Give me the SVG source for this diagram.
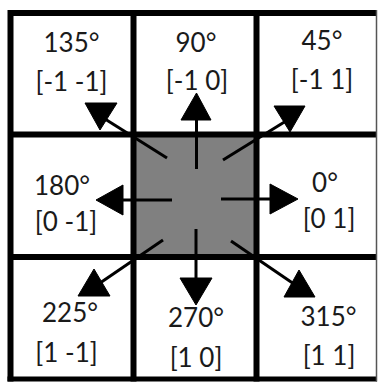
<svg xmlns="http://www.w3.org/2000/svg" width="378" height="383" viewBox="0 0 378 383">
<style>
.t{font-family:Lato,"Open Sans","Liberation Sans",sans-serif;font-size:26px;fill:#1a1a1a;text-anchor:middle}
.g{stroke:#000;stroke-width:6;fill:none}
.l{stroke:#000;stroke-width:3;fill:none}
.h{fill:#000;stroke:#000;stroke-width:1;stroke-linejoin:round}
</style>
<rect x="0" y="0" width="378" height="383" fill="#fff"/>
<rect x="133.5" y="134.5" width="123" height="122.5" fill="#808080"/>
<g id="grid">
<path class="g" d="M10.5 13V381.5M133.5 13V381.5M256.5 13V381.5M7.5 13H377M7.5 134.5H377M7.5 257H377"/>
<path d="M7.5 379H377" stroke="#000" stroke-width="5" fill="none"/>
<path d="M376.5 10V381.5" stroke="#555" stroke-width="1.5" fill="none"/>
</g>
<g id="n135"><text class="t" x="71.5" y="52">135°</text><text class="t" x="71.5" y="91">[-1 -1]</text></g>
<g id="n90"><text class="t" x="196" y="52">90°</text><text class="t" x="197" y="90">[-1 0]</text></g>
<g id="n45"><text class="t" x="322" y="50">45°</text><text class="t" x="322" y="89">[-1 1]</text></g>
<g id="n180"><text class="t" x="62" y="195">180°</text><text class="t" x="66" y="231">[0 -1]</text></g>
<g id="n0"><text class="t" x="325" y="192">0°</text><text class="t" x="329" y="228">[0 1]</text></g>
<g id="n225"><text class="t" x="70" y="322">225°</text><text class="t" x="66.5" y="362">[1 -1]</text></g>
<g id="n270"><text class="t" x="196" y="327">270°</text><text class="t" x="196" y="367">[1 0]</text></g>
<g id="n315"><text class="t" x="328.5" y="326">315°</text><text class="t" x="329" y="365">[1 1]</text></g>
<g id="connectors">
<line class="l" x1="196.5" y1="169" x2="196.5" y2="118"/>
<polygon class="h" points="196.5,93 181,120 211,120"/>
<line class="l" x1="196" y1="229" x2="196" y2="280"/>
<polygon class="h" points="196,305 180,278 212,278"/>
<line class="l" x1="172" y1="200" x2="121" y2="200"/>
<polygon class="h" points="96,200 123,185 123,215"/>
<line class="l" x1="221" y1="199" x2="272" y2="199"/>
<polygon class="h" points="298,199 270,184 270,214"/>
<line class="l" x1="167" y1="158" x2="105" y2="119"/>
<polygon class="h" points="85,103 117,103 100,130"/>
<line class="l" x1="223" y1="160" x2="286" y2="121"/>
<polygon class="h" points="274,106 305,106 290,132"/>
<line class="l" x1="163" y1="240" x2="100" y2="283"/>
<polygon class="h" points="78,296 110,296 94,269"/>
<line class="l" x1="231" y1="241" x2="294" y2="284"/>
<polygon class="h" points="284,297 315,297 299,270"/>
</g>
</svg>
